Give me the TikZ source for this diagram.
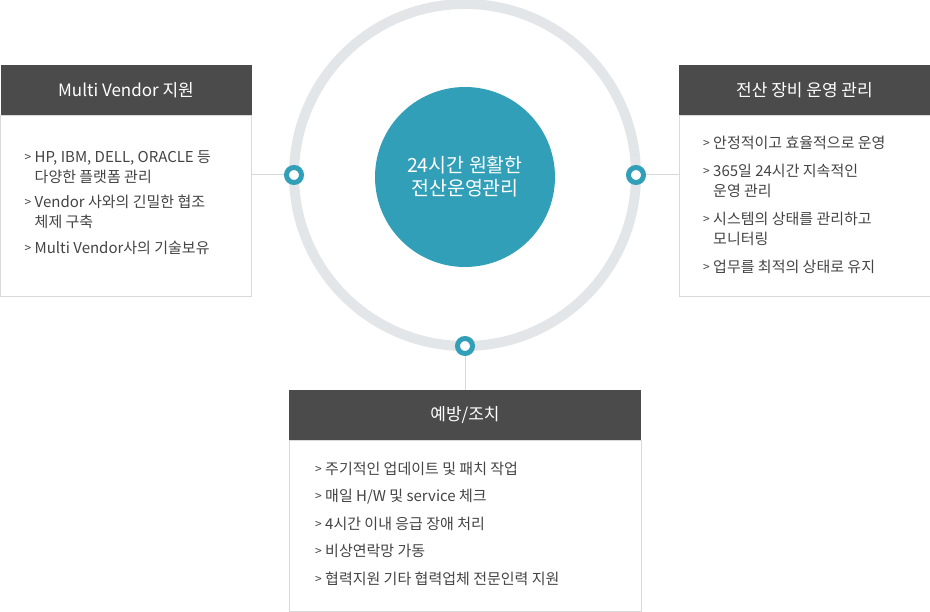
\documentclass[tikz,border=0pt]{standalone}
\usepackage{fontspec}
\setmainfont{Noto Sans CJK KR}
\usetikzlibrary{positioning}
\definecolor{headgray}{HTML}{4B4B4B}
\definecolor{ringteal}{HTML}{319FB7}
\definecolor{ringgray}{HTML}{E3E6E9}
\definecolor{boxline}{HTML}{D9D9D9}
\definecolor{bodytext}{HTML}{444444}
\newcommand{\itm}{\makebox[10pt][l]{\raisebox{0.8pt}{\fontsize{12}{12}\selectfont >}}}
\newcommand{\cnt}{\hspace*{10pt}}

\begin{document}
\begin{tikzpicture}[x=1pt,y=-1pt,
  head/.style={fill=headgray,text=white,minimum height=50pt,inner sep=0pt,outer sep=0pt,font=\fontsize{17}{20}\selectfont},
  panel/.style={draw=boxline,fill=white,inner sep=0pt,outer sep=0pt},
  items/.style={anchor=north west,align=left,inner sep=0pt,text=bodytext,font=\fontsize{15}{20}\selectfont},
  dot/.style={circle,draw=ringteal,line width=5pt,fill=white,minimum size=15pt,inner sep=0pt},
  conn/.style={draw=boxline,line width=1pt}]
  \useasboundingbox (0,0) rectangle (930,612);
  \node[circle,draw=ringgray,line width=10pt,minimum size=342pt,inner sep=0pt,outer sep=0pt] (ring) at (465,175) {};
  \node[circle,fill=ringteal,minimum size=180pt,inner sep=0pt,text=white,align=center,font=\fontsize{19.5}{23}\selectfont] (hub) at (465,177) {24시간 원활한\\전산운영관리};

  \node[head,minimum width=251pt,anchor=north west] (lhead) at (0.5,65) {Multi Vendor 지원};
  \node[panel,minimum width=251pt,minimum height=181pt,below=0pt of lhead] (lbody) {};
  \node[items,xshift=24pt,yshift=-35pt] (ltext) at (lbody.north west) {\itm HP, IBM, DELL, ORACLE 등\\
    \cnt 다양한 플랫폼 관리\\[5.5pt]
    \itm Vendor 사와의 긴밀한 협조\\
    \cnt 체제 구축\\[5.5pt]
    \itm Multi Vendor사의 기술보유};

  \node[head,minimum width=251pt,anchor=north west] (rhead) at (679,65) {전산 장비 운영 관리};
  \node[panel,minimum width=251pt,minimum height=181pt,below=0pt of rhead] (rbody) {};
  \node[items,xshift=24pt,yshift=-21pt] (rtext) at (rbody.north west) {\itm 안정적이고 효율적으로 운영\\[8pt]
    \itm 365일 24시간 지속적인\\
    \cnt 운영 관리\\[8pt]
    \itm 시스템의 상태를 관리하고\\
    \cnt 모니터링\\[8pt]
    \itm 업무를 최적의 상태로 유지};

  \node[head,minimum width=352pt,anchor=north west] (bhead) at (289,390) {예방/조치};
  \node[panel,minimum width=352pt,minimum height=171pt,below=0pt of bhead] (bbody) {};
  \node[items,xshift=26pt,yshift=-21.5pt] (btext) at (bbody.north west) {\itm 주기적인 업데이트 및 패치 작업\\[7.5pt]
    \itm 매일 H/W 및 service 체크\\[7.5pt]
    \itm 4시간 이내 응급 장애 처리\\[7.5pt]
    \itm 비상연락망 가동\\[7.5pt]
    \itm 협력지원 기타 협력업체 전문인력 지원};

  \node[dot] (ldot) at (ring.west) {};
  \node[dot] (rdot) at (ring.east) {};
  \node[dot] (bdot) at (ring.south) {};
  \draw[conn] (lbody.east |- ldot) -- (ldot);
  \draw[conn] (rdot) -- (rbody.west |- rdot);
  \draw[conn] (bdot) -- (bhead.north);
\end{tikzpicture}
\end{document}
